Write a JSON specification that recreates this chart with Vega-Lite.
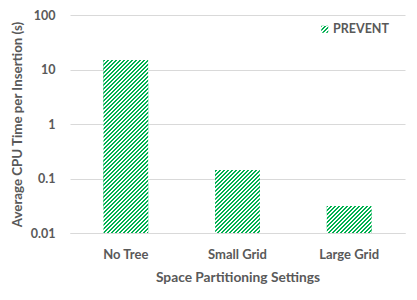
{
  "$schema": "https://vega.github.io/schema/vega-lite/v6.json",
  "autosize": "none",
  "padding": {"left": 70, "top": 15, "right": 12, "bottom": 67},
  "width": 335,
  "height": 218,
  "background": "white",
  "config": {"view": {"stroke": null}, "font": "Lato"},
  "data": {"values": [
    {"setting": "No Tree", "time": 15, "series": "PREVENT"},
    {"setting": "Small Grid", "time": 0.143, "series": "PREVENT"},
    {"setting": "Large Grid", "time": 0.0313, "series": "PREVENT"}
  ]},
  "encoding": {
    "x": {"field": "setting", "type": "nominal",
      "scale": {"domain": ["No Tree", "Small Grid", "Large Grid"], "paddingInner": 0.6, "paddingOuter": 0.3},
      "axis": {"title": "Space Partitioning Settings", "labelAngle": 0, "domain": true, "domainColor": "#d9d9d9", "ticks": false, "tickSize": 0, "labelPadding": 15, "labelFontSize": 13, "labelFontWeight": "bold", "labelColor": "#595959", "titleFontSize": 13.75, "titleFontWeight": "bold", "titleColor": "#595959", "titlePadding": 9}},
    "y": {"field": "time", "type": "quantitative", "stack": null,
      "scale": {"type": "log", "domain": [0.01, 100]},
      "axis": {"title": "Average CPU Time per Insertion (s)", "values": [0.01, 0.1, 1, 10, 100], "format": "~g", "grid": true, "gridColor": "#d9d9d9", "gridWidth": 1, "domain": false, "ticks": false, "tickSize": 0, "labelPadding": 15, "labelFontSize": 12.5, "labelFontWeight": "bold", "labelColor": "#595959", "titleFontSize": 13.3, "titleFontWeight": "bold", "titleColor": "#595959", "titlePadding": 6}}
  },
  "layer": [
    {
      "mark": {"type": "bar", "strokeWidth": 0, "fill": {"gradient": "linear", "x1": 0, "y1": 0, "x2": 1.428571, "y2": 1.428571, "stops": [
              {"offset":0,"color":"#00b050"},
              {"offset":0.1,"color":"#00b050"},{"offset":0.1,"color":"#fff"},
              {"offset":0.2,"color":"#fff"},{"offset":0.2,"color":"#00b050"},
              {"offset":0.3,"color":"#00b050"},{"offset":0.3,"color":"#fff"},
              {"offset":0.4,"color":"#fff"},{"offset":0.4,"color":"#00b050"},
              {"offset":0.5,"color":"#00b050"},{"offset":0.5,"color":"#fff"},
              {"offset":0.6,"color":"#fff"},{"offset":0.6,"color":"#00b050"},
              {"offset":0.7,"color":"#00b050"},{"offset":0.7,"color":"#fff"},
              {"offset":1,"color":"#fff"}]}},
      "encoding": {
        "stroke": {"field": "series", "type": "nominal", "scale": {"range": ["#00b050"]},
          "legend": {"title": null, "orient": "none", "legendX": 248.5, "legendY": 8, "padding": 0, "symbolType": "square", "symbolSize": 49, "symbolStrokeWidth": 0, "labelFont": "Lato", "labelFontSize": 12.5, "labelFontWeight": "bold", "labelColor": "#595959", "labelOffset": 2}}
      }
    },
    {
      "transform": [{"filter": "datum.setting === 'No Tree'"}],
      "mark": {"type": "bar", "fill": {"gradient": "linear", "x1": 0, "y1": 0, "x2": 0.310598, "y2": 1.203673, "stops": [
          {"offset":0,"color":"#00b050"},
          {"offset":0.009,"color":"#00b050"},{"offset":0.009,"color":"#fff"},
          {"offset":0.018,"color":"#fff"},{"offset":0.018,"color":"#00b050"},
          {"offset":0.027,"color":"#00b050"},{"offset":0.027,"color":"#fff"},
          {"offset":0.036,"color":"#fff"},{"offset":0.036,"color":"#00b050"},
          {"offset":0.045,"color":"#00b050"},{"offset":0.045,"color":"#fff"},
          {"offset":0.054,"color":"#fff"},{"offset":0.054,"color":"#00b050"},
          {"offset":0.063,"color":"#00b050"},{"offset":0.063,"color":"#fff"},
          {"offset":0.072,"color":"#fff"},{"offset":0.072,"color":"#00b050"},
          {"offset":0.081,"color":"#00b050"},{"offset":0.081,"color":"#fff"},
          {"offset":0.09,"color":"#fff"},{"offset":0.09,"color":"#00b050"},
          {"offset":0.099,"color":"#00b050"},{"offset":0.099,"color":"#fff"},
          {"offset":0.108,"color":"#fff"},{"offset":0.108,"color":"#00b050"},
          {"offset":0.117,"color":"#00b050"},{"offset":0.117,"color":"#fff"},
          {"offset":0.126,"color":"#fff"},{"offset":0.126,"color":"#00b050"},
          {"offset":0.135,"color":"#00b050"},{"offset":0.135,"color":"#fff"},
          {"offset":0.144,"color":"#fff"},{"offset":0.144,"color":"#00b050"},
          {"offset":0.153,"color":"#00b050"},{"offset":0.153,"color":"#fff"},
          {"offset":0.162,"color":"#fff"},{"offset":0.162,"color":"#00b050"},
          {"offset":0.171,"color":"#00b050"},{"offset":0.171,"color":"#fff"},
          {"offset":0.18,"color":"#fff"},{"offset":0.18,"color":"#00b050"},
          {"offset":0.189,"color":"#00b050"},{"offset":0.189,"color":"#fff"},
          {"offset":0.198,"color":"#fff"},{"offset":0.198,"color":"#00b050"},
          {"offset":0.207,"color":"#00b050"},{"offset":0.207,"color":"#fff"},
          {"offset":0.216,"color":"#fff"},{"offset":0.216,"color":"#00b050"},
          {"offset":0.225,"color":"#00b050"},{"offset":0.225,"color":"#fff"},
          {"offset":0.234,"color":"#fff"},{"offset":0.234,"color":"#00b050"},
          {"offset":0.243,"color":"#00b050"},{"offset":0.243,"color":"#fff"},
          {"offset":0.252,"color":"#fff"},{"offset":0.252,"color":"#00b050"},
          {"offset":0.261,"color":"#00b050"},{"offset":0.261,"color":"#fff"},
          {"offset":0.27,"color":"#fff"},{"offset":0.27,"color":"#00b050"},
          {"offset":0.279,"color":"#00b050"},{"offset":0.279,"color":"#fff"},
          {"offset":0.288,"color":"#fff"},{"offset":0.288,"color":"#00b050"},
          {"offset":0.297,"color":"#00b050"},{"offset":0.297,"color":"#fff"},
          {"offset":0.306,"color":"#fff"},{"offset":0.306,"color":"#00b050"},
          {"offset":0.315,"color":"#00b050"},{"offset":0.315,"color":"#fff"},
          {"offset":0.324,"color":"#fff"},{"offset":0.324,"color":"#00b050"},
          {"offset":0.333,"color":"#00b050"},{"offset":0.333,"color":"#fff"},
          {"offset":0.342,"color":"#fff"},{"offset":0.342,"color":"#00b050"},
          {"offset":0.351,"color":"#00b050"},{"offset":0.351,"color":"#fff"},
          {"offset":0.36,"color":"#fff"},{"offset":0.36,"color":"#00b050"},
          {"offset":0.369,"color":"#00b050"},{"offset":0.369,"color":"#fff"},
          {"offset":0.378,"color":"#fff"},{"offset":0.378,"color":"#00b050"},
          {"offset":0.387,"color":"#00b050"},{"offset":0.387,"color":"#fff"},
          {"offset":0.396,"color":"#fff"},{"offset":0.396,"color":"#00b050"},
          {"offset":0.405,"color":"#00b050"},{"offset":0.405,"color":"#fff"},
          {"offset":0.414,"color":"#fff"},{"offset":0.414,"color":"#00b050"},
          {"offset":0.423,"color":"#00b050"},{"offset":0.423,"color":"#fff"},
          {"offset":0.432,"color":"#fff"},{"offset":0.432,"color":"#00b050"},
          {"offset":0.441,"color":"#00b050"},{"offset":0.441,"color":"#fff"},
          {"offset":0.45,"color":"#fff"},{"offset":0.45,"color":"#00b050"},
          {"offset":0.459,"color":"#00b050"},{"offset":0.459,"color":"#fff"},
          {"offset":0.468,"color":"#fff"},{"offset":0.468,"color":"#00b050"},
          {"offset":0.477,"color":"#00b050"},{"offset":0.477,"color":"#fff"},
          {"offset":0.486,"color":"#fff"},{"offset":0.486,"color":"#00b050"},
          {"offset":0.495,"color":"#00b050"},{"offset":0.495,"color":"#fff"},
          {"offset":0.504,"color":"#fff"},{"offset":0.504,"color":"#00b050"},
          {"offset":0.513,"color":"#00b050"},{"offset":0.513,"color":"#fff"},
          {"offset":0.522,"color":"#fff"},{"offset":0.522,"color":"#00b050"},
          {"offset":0.531,"color":"#00b050"},{"offset":0.531,"color":"#fff"},
          {"offset":0.54,"color":"#fff"},{"offset":0.54,"color":"#00b050"},
          {"offset":0.549,"color":"#00b050"},{"offset":0.549,"color":"#fff"},
          {"offset":0.558,"color":"#fff"},{"offset":0.558,"color":"#00b050"},
          {"offset":0.567,"color":"#00b050"},{"offset":0.567,"color":"#fff"},
          {"offset":0.576,"color":"#fff"},{"offset":0.576,"color":"#00b050"},
          {"offset":0.585,"color":"#00b050"},{"offset":0.585,"color":"#fff"},
          {"offset":0.594,"color":"#fff"},{"offset":0.594,"color":"#00b050"},
          {"offset":0.603,"color":"#00b050"},{"offset":0.603,"color":"#fff"},
          {"offset":0.612,"color":"#fff"},{"offset":0.612,"color":"#00b050"},
          {"offset":0.621,"color":"#00b050"},{"offset":0.621,"color":"#fff"},
          {"offset":0.63,"color":"#fff"},{"offset":0.63,"color":"#00b050"},
          {"offset":0.639,"color":"#00b050"},{"offset":0.639,"color":"#fff"},
          {"offset":0.648,"color":"#fff"},{"offset":0.648,"color":"#00b050"},
          {"offset":0.657,"color":"#00b050"},{"offset":0.657,"color":"#fff"},
          {"offset":0.666,"color":"#fff"},{"offset":0.666,"color":"#00b050"},
          {"offset":0.675,"color":"#00b050"},{"offset":0.675,"color":"#fff"},
          {"offset":0.684,"color":"#fff"},{"offset":0.684,"color":"#00b050"},
          {"offset":0.693,"color":"#00b050"},{"offset":0.693,"color":"#fff"},
          {"offset":0.702,"color":"#fff"},{"offset":0.702,"color":"#00b050"},
          {"offset":0.711,"color":"#00b050"},{"offset":0.711,"color":"#fff"},
          {"offset":0.72,"color":"#fff"},{"offset":0.72,"color":"#00b050"},
          {"offset":0.729,"color":"#00b050"},{"offset":0.729,"color":"#fff"},
          {"offset":0.738,"color":"#fff"},{"offset":0.738,"color":"#00b050"},
          {"offset":0.747,"color":"#00b050"},{"offset":0.747,"color":"#fff"},
          {"offset":0.756,"color":"#fff"},{"offset":0.756,"color":"#00b050"},
          {"offset":0.765,"color":"#00b050"},{"offset":0.765,"color":"#fff"},
          {"offset":0.774,"color":"#fff"},{"offset":0.774,"color":"#00b050"},
          {"offset":0.783,"color":"#00b050"},{"offset":0.783,"color":"#fff"},
          {"offset":0.792,"color":"#fff"},{"offset":0.792,"color":"#00b050"},
          {"offset":0.801,"color":"#00b050"},{"offset":0.801,"color":"#fff"},
          {"offset":0.81,"color":"#fff"},{"offset":0.81,"color":"#00b050"},
          {"offset":0.819,"color":"#00b050"},{"offset":0.819,"color":"#fff"},
          {"offset":0.828,"color":"#fff"},{"offset":0.828,"color":"#00b050"},
          {"offset":0.837,"color":"#00b050"},{"offset":0.837,"color":"#fff"},
          {"offset":0.846,"color":"#fff"},{"offset":0.846,"color":"#00b050"},
          {"offset":0.855,"color":"#00b050"},{"offset":0.855,"color":"#fff"},
          {"offset":0.864,"color":"#fff"},{"offset":0.864,"color":"#00b050"},
          {"offset":0.873,"color":"#00b050"},{"offset":0.873,"color":"#fff"},
          {"offset":0.882,"color":"#fff"},{"offset":0.882,"color":"#00b050"},
          {"offset":0.891,"color":"#00b050"},{"offset":0.891,"color":"#fff"},
          {"offset":0.9,"color":"#fff"},{"offset":0.9,"color":"#00b050"},
          {"offset":0.909,"color":"#00b050"},{"offset":0.909,"color":"#fff"},
          {"offset":0.918,"color":"#fff"},{"offset":0.918,"color":"#00b050"},
          {"offset":0.927,"color":"#00b050"},{"offset":0.927,"color":"#fff"},
          {"offset":0.936,"color":"#fff"},{"offset":0.936,"color":"#00b050"},
          {"offset":0.945,"color":"#00b050"},{"offset":0.945,"color":"#fff"},
          {"offset":0.954,"color":"#fff"},{"offset":0.954,"color":"#00b050"},
          {"offset":0.963,"color":"#00b050"},{"offset":0.963,"color":"#fff"},
          {"offset":0.972,"color":"#fff"},{"offset":0.972,"color":"#00b050"},
          {"offset":0.981,"color":"#00b050"},{"offset":0.981,"color":"#fff"},
          {"offset":0.99,"color":"#fff"},{"offset":0.99,"color":"#00b050"},
          {"offset":1,"color":"#00b050"}]}}
    },
    {
      "transform": [{"filter": "datum.setting === 'Small Grid'"}],
      "mark": {"type": "bar", "fill": {"gradient": "linear", "x1": 0, "y1": 0, "x2": 0.832734, "y2": 1.173877, "stops": [
          {"offset":0,"color":"#00b050"},
          {"offset":0.018,"color":"#00b050"},{"offset":0.018,"color":"#fff"},
          {"offset":0.036,"color":"#fff"},{"offset":0.036,"color":"#00b050"},
          {"offset":0.054,"color":"#00b050"},{"offset":0.054,"color":"#fff"},
          {"offset":0.072,"color":"#fff"},{"offset":0.072,"color":"#00b050"},
          {"offset":0.09,"color":"#00b050"},{"offset":0.09,"color":"#fff"},
          {"offset":0.108,"color":"#fff"},{"offset":0.108,"color":"#00b050"},
          {"offset":0.126,"color":"#00b050"},{"offset":0.126,"color":"#fff"},
          {"offset":0.144,"color":"#fff"},{"offset":0.144,"color":"#00b050"},
          {"offset":0.162,"color":"#00b050"},{"offset":0.162,"color":"#fff"},
          {"offset":0.18,"color":"#fff"},{"offset":0.18,"color":"#00b050"},
          {"offset":0.198,"color":"#00b050"},{"offset":0.198,"color":"#fff"},
          {"offset":0.216,"color":"#fff"},{"offset":0.216,"color":"#00b050"},
          {"offset":0.234,"color":"#00b050"},{"offset":0.234,"color":"#fff"},
          {"offset":0.252,"color":"#fff"},{"offset":0.252,"color":"#00b050"},
          {"offset":0.27,"color":"#00b050"},{"offset":0.27,"color":"#fff"},
          {"offset":0.288,"color":"#fff"},{"offset":0.288,"color":"#00b050"},
          {"offset":0.306,"color":"#00b050"},{"offset":0.306,"color":"#fff"},
          {"offset":0.324,"color":"#fff"},{"offset":0.324,"color":"#00b050"},
          {"offset":0.342,"color":"#00b050"},{"offset":0.342,"color":"#fff"},
          {"offset":0.36,"color":"#fff"},{"offset":0.36,"color":"#00b050"},
          {"offset":0.378,"color":"#00b050"},{"offset":0.378,"color":"#fff"},
          {"offset":0.396,"color":"#fff"},{"offset":0.396,"color":"#00b050"},
          {"offset":0.414,"color":"#00b050"},{"offset":0.414,"color":"#fff"},
          {"offset":0.432,"color":"#fff"},{"offset":0.432,"color":"#00b050"},
          {"offset":0.45,"color":"#00b050"},{"offset":0.45,"color":"#fff"},
          {"offset":0.468,"color":"#fff"},{"offset":0.468,"color":"#00b050"},
          {"offset":0.486,"color":"#00b050"},{"offset":0.486,"color":"#fff"},
          {"offset":0.504,"color":"#fff"},{"offset":0.504,"color":"#00b050"},
          {"offset":0.522,"color":"#00b050"},{"offset":0.522,"color":"#fff"},
          {"offset":0.54,"color":"#fff"},{"offset":0.54,"color":"#00b050"},
          {"offset":0.558,"color":"#00b050"},{"offset":0.558,"color":"#fff"},
          {"offset":0.576,"color":"#fff"},{"offset":0.576,"color":"#00b050"},
          {"offset":0.594,"color":"#00b050"},{"offset":0.594,"color":"#fff"},
          {"offset":0.612,"color":"#fff"},{"offset":0.612,"color":"#00b050"},
          {"offset":0.63,"color":"#00b050"},{"offset":0.63,"color":"#fff"},
          {"offset":0.648,"color":"#fff"},{"offset":0.648,"color":"#00b050"},
          {"offset":0.666,"color":"#00b050"},{"offset":0.666,"color":"#fff"},
          {"offset":0.684,"color":"#fff"},{"offset":0.684,"color":"#00b050"},
          {"offset":0.702,"color":"#00b050"},{"offset":0.702,"color":"#fff"},
          {"offset":0.72,"color":"#fff"},{"offset":0.72,"color":"#00b050"},
          {"offset":0.738,"color":"#00b050"},{"offset":0.738,"color":"#fff"},
          {"offset":0.756,"color":"#fff"},{"offset":0.756,"color":"#00b050"},
          {"offset":0.774,"color":"#00b050"},{"offset":0.774,"color":"#fff"},
          {"offset":0.792,"color":"#fff"},{"offset":0.792,"color":"#00b050"},
          {"offset":0.81,"color":"#00b050"},{"offset":0.81,"color":"#fff"},
          {"offset":0.828,"color":"#fff"},{"offset":0.828,"color":"#00b050"},
          {"offset":0.846,"color":"#00b050"},{"offset":0.846,"color":"#fff"},
          {"offset":0.864,"color":"#fff"},{"offset":0.864,"color":"#00b050"},
          {"offset":0.882,"color":"#00b050"},{"offset":0.882,"color":"#fff"},
          {"offset":0.9,"color":"#fff"},{"offset":0.9,"color":"#00b050"},
          {"offset":0.918,"color":"#00b050"},{"offset":0.918,"color":"#fff"},
          {"offset":0.936,"color":"#fff"},{"offset":0.936,"color":"#00b050"},
          {"offset":0.954,"color":"#00b050"},{"offset":0.954,"color":"#fff"},
          {"offset":0.972,"color":"#fff"},{"offset":0.972,"color":"#00b050"},
          {"offset":0.99,"color":"#00b050"},{"offset":0.99,"color":"#fff"},
          {"offset":1,"color":"#fff"}]}}
    },
    {
      "transform": [{"filter": "datum.setting === 'Large Grid'"}],
      "mark": {"type": "bar", "fill": {"gradient": "linear", "x1": 0, "y1": 0, "x2": 1.214397, "y2": 0.734266, "stops": [
        {"offset":0,"color":"#00b050"},
        {"offset":0.027,"color":"#00b050"},{"offset":0.027,"color":"#fff"},
        {"offset":0.054,"color":"#fff"},{"offset":0.054,"color":"#00b050"},
        {"offset":0.081,"color":"#00b050"},{"offset":0.081,"color":"#fff"},
        {"offset":0.108,"color":"#fff"},{"offset":0.108,"color":"#00b050"},
        {"offset":0.135,"color":"#00b050"},{"offset":0.135,"color":"#fff"},
        {"offset":0.162,"color":"#fff"},{"offset":0.162,"color":"#00b050"},
        {"offset":0.189,"color":"#00b050"},{"offset":0.189,"color":"#fff"},
        {"offset":0.216,"color":"#fff"},{"offset":0.216,"color":"#00b050"},
        {"offset":0.243,"color":"#00b050"},{"offset":0.243,"color":"#fff"},
        {"offset":0.27,"color":"#fff"},{"offset":0.27,"color":"#00b050"},
        {"offset":0.297,"color":"#00b050"},{"offset":0.297,"color":"#fff"},
        {"offset":0.324,"color":"#fff"},{"offset":0.324,"color":"#00b050"},
        {"offset":0.351,"color":"#00b050"},{"offset":0.351,"color":"#fff"},
        {"offset":0.378,"color":"#fff"},{"offset":0.378,"color":"#00b050"},
        {"offset":0.405,"color":"#00b050"},{"offset":0.405,"color":"#fff"},
        {"offset":0.432,"color":"#fff"},{"offset":0.432,"color":"#00b050"},
        {"offset":0.459,"color":"#00b050"},{"offset":0.459,"color":"#fff"},
        {"offset":0.486,"color":"#fff"},{"offset":0.486,"color":"#00b050"},
        {"offset":0.513,"color":"#00b050"},{"offset":0.513,"color":"#fff"},
        {"offset":0.54,"color":"#fff"},{"offset":0.54,"color":"#00b050"},
        {"offset":0.567,"color":"#00b050"},{"offset":0.567,"color":"#fff"},
        {"offset":0.594,"color":"#fff"},{"offset":0.594,"color":"#00b050"},
        {"offset":0.621,"color":"#00b050"},{"offset":0.621,"color":"#fff"},
        {"offset":0.648,"color":"#fff"},{"offset":0.648,"color":"#00b050"},
        {"offset":0.675,"color":"#00b050"},{"offset":0.675,"color":"#fff"},
        {"offset":0.702,"color":"#fff"},{"offset":0.702,"color":"#00b050"},
        {"offset":0.729,"color":"#00b050"},{"offset":0.729,"color":"#fff"},
        {"offset":0.756,"color":"#fff"},{"offset":0.756,"color":"#00b050"},
        {"offset":0.783,"color":"#00b050"},{"offset":0.783,"color":"#fff"},
        {"offset":0.81,"color":"#fff"},{"offset":0.81,"color":"#00b050"},
        {"offset":0.837,"color":"#00b050"},{"offset":0.837,"color":"#fff"},
        {"offset":0.864,"color":"#fff"},{"offset":0.864,"color":"#00b050"},
        {"offset":0.891,"color":"#00b050"},{"offset":0.891,"color":"#fff"},
        {"offset":0.918,"color":"#fff"},{"offset":0.918,"color":"#00b050"},
        {"offset":0.945,"color":"#00b050"},{"offset":0.945,"color":"#fff"},
        {"offset":0.972,"color":"#fff"},{"offset":0.972,"color":"#00b050"},
        {"offset":1,"color":"#00b050"}]}}
    }
  ]
}
